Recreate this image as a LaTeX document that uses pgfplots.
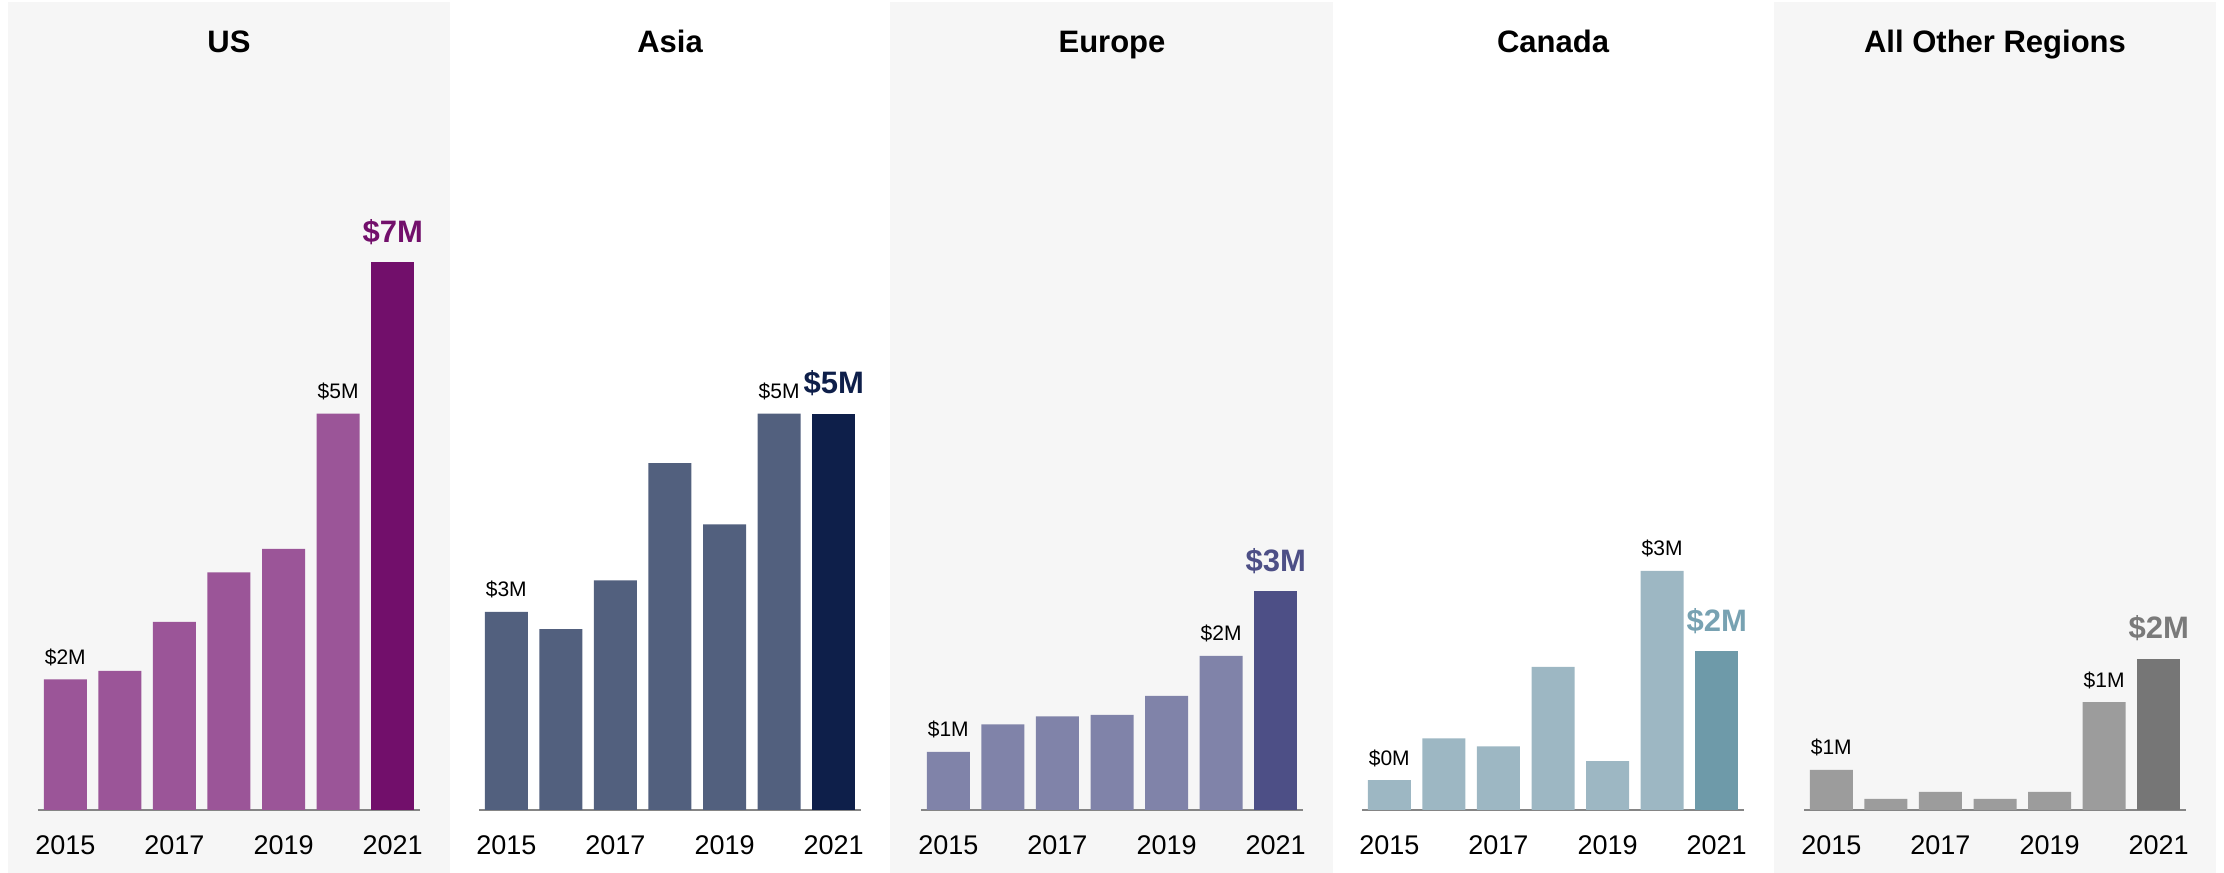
\documentclass[border=0pt]{standalone}
\usepackage{pgfplots}
\pgfplotsset{compat=1.18}
\usepackage{fontspec}
\setmainfont{Liberation Sans}
\definecolor{bg}{HTML}{F6F6F6}
\definecolor{axisgray}{HTML}{858585}
\definecolor{usL}{HTML}{9B5598}
\definecolor{usD}{HTML}{720F6B}
\definecolor{asL}{HTML}{52607E}
\definecolor{asD}{HTML}{0E1F4A}
\definecolor{euL}{HTML}{8083A9}
\definecolor{euD}{HTML}{4D4F86}
\definecolor{caL}{HTML}{9DB7C3}
\definecolor{caD}{HTML}{6E9AA9}
\definecolor{caT}{HTML}{78A2B2}
\definecolor{otL}{HTML}{9C9C9C}
\definecolor{otD}{HTML}{767676}
\definecolor{otT}{HTML}{7A7A7A}
\pgfplotsset{
  panel/.style={
    scale only axis, width=191pt, height=295pt,
    xmin=-0.5, xmax=6.5, ymin=0, ymax=7.5,
    axis x line*=bottom, axis y line=none,
    x axis line style={draw=axisgray, line width=1pt},
    xtick={0,2,4,6}, xticklabels={2015,2017,2019,2021},
    major tick length=0pt,
    xticklabel style={font=\fontsize{13.5}{16}\selectfont, anchor=base, yshift=-22.5pt, inner sep=0pt},
    ytick=\empty, clip=false, anchor=south west,
  },
  lightbar/.style={ybar, bar width=21.5pt, bar shift=0pt, draw=none, fill=#1,
    nodes near coords, point meta=explicit symbolic,
    nodes near coords style={font=\fontsize{10.5}{12}\selectfont, text=black, anchor=base, yshift=7.5pt, inner sep=0pt}},
  darkbar/.style 2 args={ybar, bar width=21.5pt, bar shift=0pt, draw=none, fill=#1,
    nodes near coords, point meta=explicit symbolic,
    nodes near coords style={font=\bfseries\fontsize{15.5}{18}\selectfont, text=#2, anchor=base, yshift=10pt, inner sep=0pt}},
}
\begin{document}
\begin{tikzpicture}[x=0.5pt,y=0.5pt]
\path[use as bounding box] (0,0) rectangle (2224,873);
\fill[bg] (8,0) rectangle (450,871);
\fill[bg] (890,0) rectangle (1333,871);
\fill[bg] (1774,0) rectangle (2216,871);
\tikzset{ttl/.style={font=\bfseries\fontsize{15.5}{18}\selectfont, text=black, anchor=base, inner sep=0pt}}
\node[ttl] at (229,820) {US};
\node[ttl] at (670,820) {Asia};
\node[ttl] at (1112,820) {Europe};
\node[ttl] at (1553,820) {Canada};
\node[ttl] at (1995,820) {All Other Regions};

% US
\begin{axis}[panel, at={(19pt,31.5pt)}]
\addplot[lightbar=usL] coordinates {(0,1.66)[\$2M] (1,1.77)[] (2,2.39)[] (3,3.02)[] (4,3.32)[] (5,5.04)[\$5M]};
\addplot[darkbar={usD}{usD}] coordinates {(6,6.96)[\$7M]};
\end{axis}

% Asia
\begin{axis}[panel, at={(239.5pt,31.5pt)}]
\addplot[lightbar=asL] coordinates {(0,2.52)[\$3M] (1,2.30)[] (2,2.92)[] (3,4.41)[] (4,3.63)[] (5,5.04)[\$5M]};
\addplot[darkbar={asD}{asD}] coordinates {(6,5.04)[\$5M]};
\end{axis}

% Europe
\begin{axis}[panel, at={(460.5pt,31.5pt)}]
\addplot[lightbar=euL] coordinates {(0,0.74)[\$1M] (1,1.09)[] (2,1.19)[] (3,1.21)[] (4,1.45)[] (5,1.96)[\$2M]};
\addplot[darkbar={euD}{euD}] coordinates {(6,2.78)[\$3M]};
\end{axis}

% Canada
\begin{axis}[panel, at={(681pt,31.5pt)}]
\addplot[lightbar=caL] coordinates {(0,0.38)[\$0M] (1,0.91)[] (2,0.81)[] (3,1.82)[] (4,0.62)[] (5,3.04)[\$3M]};
\addplot[darkbar={caD}{caT}] coordinates {(6,2.02)[\$2M]};
\end{axis}

% All other regions
\begin{axis}[panel, at={(902pt,31.5pt)}]
\addplot[lightbar=otL] coordinates {(0,0.51)[\$1M] (1,0.14)[] (2,0.23)[] (3,0.14)[] (4,0.23)[] (5,1.37)[\$1M]};
\addplot[darkbar={otD}{otT}] coordinates {(6,1.92)[\$2M]};
\end{axis}
\end{tikzpicture}
\end{document}
